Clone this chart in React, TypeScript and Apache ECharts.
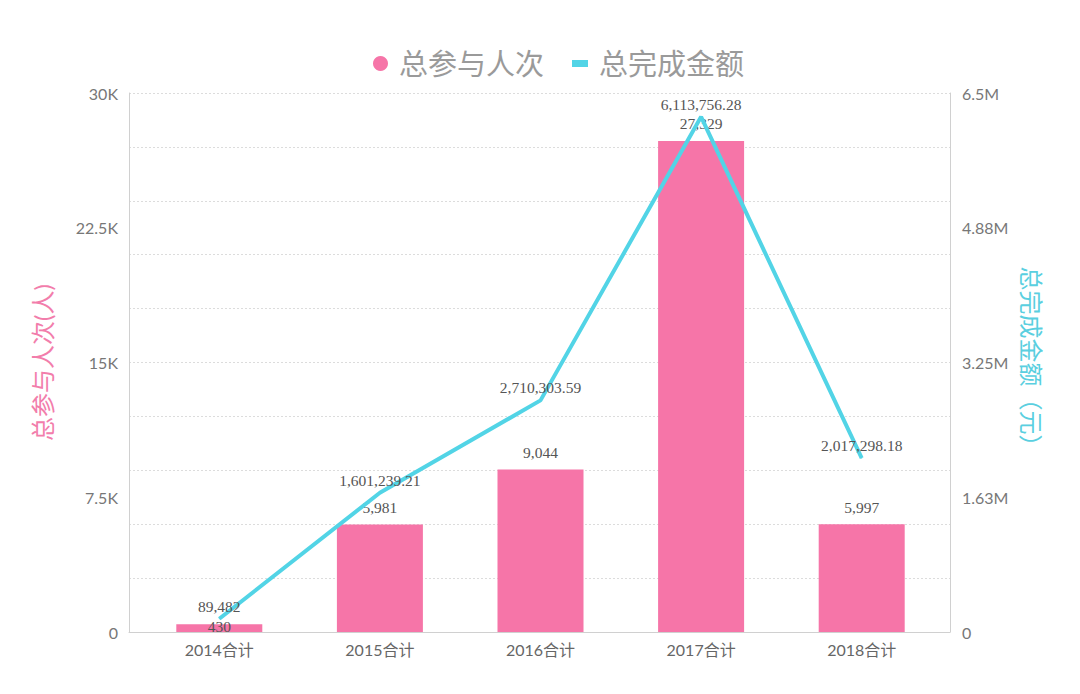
import React, { useEffect, useRef } from "react";
import * as echarts from "echarts";

const categories = ["2014合计", "2015合计", "2016合计", "2017合计", "2018合计"];
const participants = [430, 5981, 9044, 27329, 5997];
const amounts = [89482, 1601239.21, 2710303.59, 6113756.28, 2017298.18];
const leftTicks = { min: 0, max: 30000, interval: 7500 };
const rightTicks = { min: 0, max: 6500000, interval: 1625000 };

const PINK = "#F675A8";
const CYAN = "#52D4E6";
const SANS = "Lato, 'Noto Sans CJK SC', sans-serif";
const SERIF = "'Liberation Serif', 'Times New Roman', serif";

function fmtK(v: number) {
  if (v === 0) return "0";
  return parseFloat((v / 1000).toFixed(2)) + "K";
}
function fmtM(v: number) {
  if (v === 0) return "0";
  return parseFloat((v / 1e6).toFixed(2)) + "M";
}
function fmtNum(v: number) {
  return v.toLocaleString("en-US", { maximumFractionDigits: 2 });
}

export default function App() {
  const ref = useRef<HTMLDivElement>(null);
  useEffect(() => {
    if (!ref.current) return;
    const chart = echarts.init(ref.current, undefined, { renderer: "svg" });
    const labelStyle = { fontFamily: SERIF, fontSize: 15.5, color: "#555" };
    chart.setOption({
      animation: false,
      backgroundColor: "#fff",
      legend: [
        {
          data: [{ name: "总参与人次", icon: "circle" }],
          left: 368,
          top: 44,
          itemWidth: 15,
          itemHeight: 15,
          textStyle: { fontSize: 29, color: "#9a9a9a", fontFamily: SANS, padding: [0, 0, 0, 6] },
        },
        {
          data: [{ name: "总完成金额", icon: "rect" }],
          left: 567,
          top: 44,
          itemWidth: 16,
          itemHeight: 7,
          lineStyle: { width: 7 },
          textStyle: { fontSize: 29, color: "#9a9a9a", fontFamily: SANS, padding: [0, 0, 0, 6] },
        },
      ],
      grid: [
        { left: 129, right: 130, top: 93, bottom: 62 },
        { left: 139, right: 138, top: 93, bottom: 62 },
      ],
      xAxis: [
        {
          gridIndex: 0,
          type: "value",
          min: 0,
          max: 1,
          axisLine: { show: true, lineStyle: { color: "#d0d0d0", width: 1 } },
          axisTick: { show: false },
          axisLabel: { show: false },
          splitLine: { show: false },
        },
        {
          gridIndex: 1,
          type: "category",
          data: categories,
          axisLine: { show: false },
          axisTick: { show: false },
          axisLabel: { color: "#666", fontSize: 16, fontFamily: SANS, margin: 9 },
        },
      ],
      yAxis: [
        {
          gridIndex: 0,
          type: "value",
          position: "left",
          ...leftTicks,
          name: "总参与人次(人)",
          nameLocation: "middle",
          nameRotate: 90,
          nameGap: 75,
          nameTextStyle: { color: "#F27DAB", fontSize: 24, fontFamily: SANS },
          axisLine: { show: true, lineStyle: { color: "#d0d0d0" } },
          axisTick: { show: false },
          axisLabel: { color: "#777", fontSize: 16, fontFamily: SANS, margin: 11, formatter: fmtK },
          splitLine: { show: false },
        },
        {
          gridIndex: 0,
          type: "value",
          position: "right",
          ...rightTicks,
          name: "总完成金额（元）",
          nameLocation: "middle",
          nameRotate: -90,
          nameGap: 68,
          nameTextStyle: { color: "#5ACFE0", fontSize: 24, fontFamily: SANS },
          axisLine: { show: true, lineStyle: { color: "#d0d0d0" } },
          axisTick: { show: false },
          axisLabel: { color: "#777", fontSize: 16, fontFamily: SANS, margin: 12, formatter: fmtM },
          splitLine: { show: false },
        },
        {
          gridIndex: 0,
          type: "value",
          position: "left",
          min: 0,
          max: 10,
          interval: 1,
          axisLine: { show: false },
          axisTick: { show: false },
          axisLabel: { show: false },
          splitLine: { show: true, lineStyle: { color: "#dcdcdc", type: [2, 2], width: 1 } },
        },
        {
          gridIndex: 1,
          type: "value",
          show: false,
          ...leftTicks,
        },
        {
          gridIndex: 1,
          type: "value",
          show: false,
          min: -70000,
          max: 6400000,
        },
      ],
      series: [
        {
          name: "总参与人次",
          type: "bar",
          xAxisIndex: 1,
          yAxisIndex: 3,
          barWidth: 86,
          itemStyle: { color: PINK },
          data: participants.map((v, i) =>
            i === 0 ? { value: v, label: { offset: [0, 19] } } : v
          ),
          label: {
            show: true,
            position: "top",
            distance: 9,
            ...labelStyle,
            formatter: (p: any) => fmtNum(p.value),
          },
          z: 2,
        },
        {
          name: "总完成金额",
          type: "line",
          xAxisIndex: 1,
          yAxisIndex: 4,
          data: amounts,
          symbol: "circle",
          symbolSize: 1,
          showSymbol: true,
          lineStyle: { color: CYAN, width: 4 },
          itemStyle: { color: CYAN },
          label: {
            show: true,
            position: "top",
            distance: 4,
            ...labelStyle,
            formatter: (p: any) => fmtNum(p.value),
          },
          z: 3,
        },
      ],
    });
    return () => chart.dispose();
  }, []);
  return (
    <div
      ref={ref}
      style={{ position: "absolute", left: 0, top: 0, width: 1080, height: 694 }}
    />
  );
}
